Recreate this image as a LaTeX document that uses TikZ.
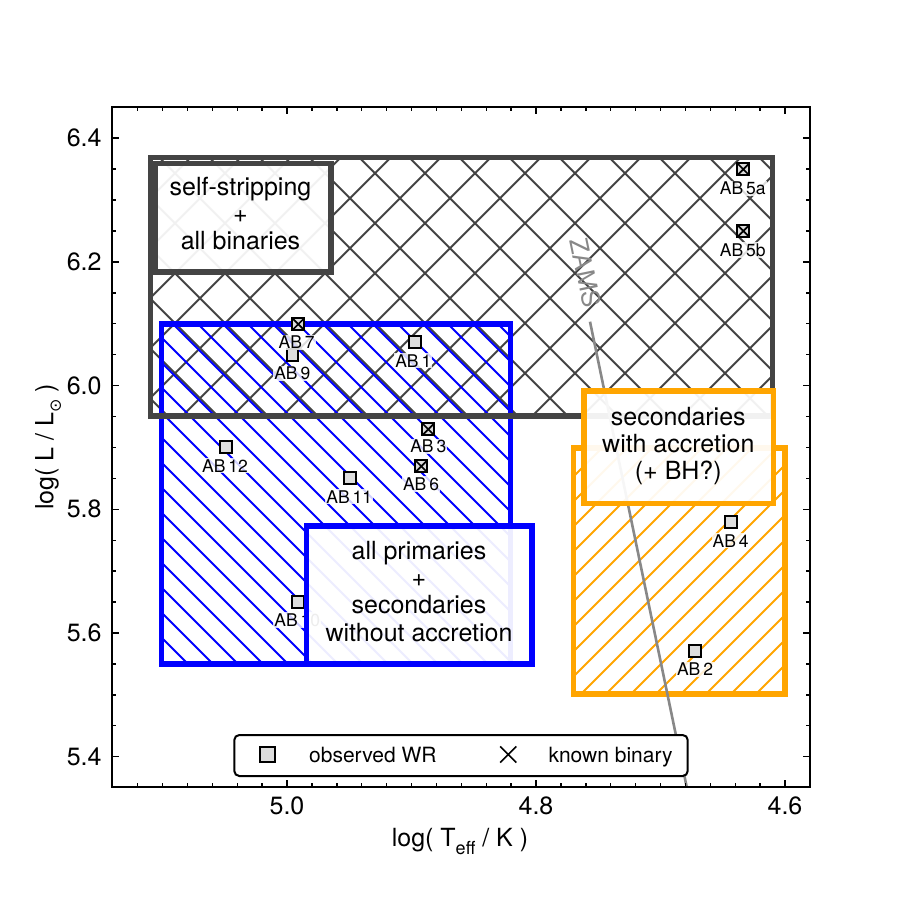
\documentclass[tikz,border=0pt]{standalone}
\usepackage{fontspec}
\setmainfont{TeX Gyre Heros}
\newfontfamily\djv{DejaVu Sans}
\usetikzlibrary{shapes.misc}
\definecolor{dgray}{HTML}{444444}
\definecolor{ablue}{HTML}{0000FF}
\definecolor{aorange}{HTML}{FFA500}
\definecolor{mfill}{HTML}{DDDDDD}
\definecolor{zgray}{HTML}{888888}
\begin{document}
\begin{tikzpicture}[x=1pt,y=-1pt,
  tick/.style={line width=1.4pt, black},
  ticklab/.style={font=\fontsize{25}{30}\selectfont, inner sep=0pt},
  wrpt/.style={rectangle, draw=black, line width=2pt, fill=mfill, minimum size=11.8pt, inner sep=0pt},
  binx/.style={cross out, draw=black, line width=1.7pt, minimum size=9.8pt, inner sep=0pt},
  ablab/.style={font=\fontsize{17.5}{18}\selectfont, fill=white, fill opacity=0.82, text opacity=1, inner sep=1pt},
  regbox/.style={line width=5.5pt},
  lbox/.style={rectangle, line width=5.5pt, fill=white, fill opacity=0.93, inner sep=0pt},
  btext/.style={align=center, font=\fontsize{25}{27.3}\selectfont, inner sep=0pt},
  legtext/.style={anchor=base west, font=\fontsize{21}{24}\selectfont, inner sep=0pt}
]
\useasboundingbox (0,0) rectangle (901,901);
\fill[white] (0,0) rectangle (901,901);

% ---- self-stripping region (cross hatch)
\begin{scope}
  \clip (150.5,157.5) rectangle (772.7,416);
  \foreach \k in {-12,...,7}{
    \pgfmathsetmacro\c{301.7+50*\k}
    \draw[dgray, line width=2pt] (\c+150,150) -- (\c+420,420);
  }
  \foreach \k in {-7,...,11}{
    \pgfmathsetmacro\c{648.3+50*\k}
    \draw[dgray, line width=2pt] (\c-150,150) -- (\c-420,420);
  }
\end{scope}

% ---- primaries region (blue hatch)
\begin{scope}
  \clip (161.7,323.8) rectangle (510.3,664.2);
  \foreach \k in {-20,...,8}{
    \pgfmathsetmacro\c{-1+25*\k}
    \draw[ablue, line width=1.9pt] (\c+320,320) -- (\c+670,670);
  }
\end{scope}
\draw[ablue, regbox] (161.7,323.8) rectangle (510.3,664.2);
\draw[dgray, regbox] (150.5,157.5) rectangle (772.7,416);

% ---- secondaries with accretion (orange hatch)
\begin{scope}
  \clip (573.3,448.2) rectangle (785,694.2);
  \foreach \k in {40,...,60}{
    \pgfmathsetmacro\c{25*\k}
    \draw[aorange, line width=1.9pt] (\c-445,445) -- (\c-700,700);
  }
\end{scope}
\draw[aorange, regbox] (573.3,448.2) rectangle (785,694.2);

% ---- ZAMS
\coordinate (zA) at (590,321.7);
\coordinate (zB) at (686.7,787);
\draw[zgray, line width=2.6pt] (zA) -- (zB);
\node[text=zgray, font=\fontsize{25}{30}\selectfont, rotate=-78.25, inner sep=0pt] (zt) at (585.5,273) {ZAMS};

% ---- data points
\node[wrpt] (p9) at (292.5,355) {};
\node[wrpt] (p7) at (298.3,324.2) {};
\node[binx] (p7x) at (p7.center) {};
\node[wrpt] (p1) at (414.7,342.2) {};
\node[wrpt] (p12) at (225.7,447.3) {};
\node[wrpt] (p3) at (428.3,429.3) {};
\node[binx] (p3x) at (p3.center) {};
\node[wrpt] (p6) at (421.3,466.3) {};
\node[binx] (p6x) at (p6.center) {};
\node[wrpt] (p11) at (350,478.3) {};
\node[wrpt] (p10) at (298.3,602) {};
\node[wrpt] (p5a) at (743.3,169.3) {};
\node[binx] (p5ax) at (p5a.center) {};
\node[wrpt] (p5b) at (743.3,231) {};
\node[binx] (p5bx) at (p5b.center) {};
\node[wrpt] (p4) at (730.8,522) {};
\node[wrpt] (p2) at (695.3,651.3) {};

\node[ablab] (l7) at (296.7,342.3) {AB\,7};
\node[ablab] (l9) at (292.3,373.3) {AB\,9};
\node[ablab] (l1) at (413.3,360.7) {AB\,1};
\node[ablab] (l12) at (225,465.7) {AB\,12};
\node[ablab] (l3) at (428.3,446.7) {AB\,3};
\node[ablab] (l6) at (421,484) {AB\,6};
\node[ablab] (l11) at (349.3,496.7) {AB\,11};
\node[ablab] (l10) at (297.3,620) {AB\,10};
\node[ablab] (l5a) at (742.7,188.3) {AB\,5a};
\node[ablab] (l5b) at (742.7,250) {AB\,5b};
\node[ablab] (l4) at (730.7,540.7) {AB\,4};
\node[ablab] (l2) at (695,669.3) {AB\,2};

% ---- label boxes
\node[lbox, draw=dgray, minimum width=175.8pt, minimum height=108.9pt] (b1) at (243.05,217.75) {};
\node[btext] (t1) at (240.5,213.5) {self-stripping\\+\\all binaries};
\node[lbox, draw=ablue, minimum width=225.1pt, minimum height=138.4pt] (b2) at (419.25,595) {};
\node[btext] (t2) at (419,591.2) {all primaries\\+\\secondaries\\without accretion};
\node[lbox, draw=aorange, minimum width=189.5pt, minimum height=112.1pt] (b3) at (678.55,447.25) {};
\node[btext] (t3) at (678.3,446) {secondaries\\with accretion\\(+ BH?)};

% ---- legend
\node[draw=black, line width=2pt, rounded corners=5pt, fill=white, minimum width=453.4pt, minimum height=41pt, inner sep=0pt] (leg) at (461,755.5) {};
\node[wrpt, minimum size=15.5pt] (legsq) at (267.5,754.7) {};
\node[legtext] (legt1) at (309,762.3) {observed WR};
\node[cross out, draw=black, line width=1.6pt, minimum size=14.5pt, inner sep=0pt] (legx) at (508.3,754.5) {};
\node[legtext] (legt2) at (548.3,762.3) {known binary};

% ---- axes frame and ticks
\draw[line width=2pt] (112.3,107.3) rectangle (810,787);
\foreach \m in {-6,...,20}{
  \pgfmathsetmacro\xx{287+24.9*\m}
  \pgfmathsetmacro\tl{ifthenelse(mod(\m,10)==0,7,4)}
  \draw[tick] (\xx,787) -- ++(0,-\tl);
  \draw[tick] (\xx,107.3) -- ++(0,\tl);
}
\foreach \n in {0,...,20}{
  \pgfmathsetmacro\yy{756.7-30.925*\n}
  \pgfmathsetmacro\tl{ifthenelse(mod(\n,4)==0,7,4)}
  \draw[tick] (112.3,\yy) -- ++(\tl,0);
  \draw[tick] (810,\yy) -- ++(-\tl,0);
}
\node[ticklab] (x50) at (287,805.5) {5.0};
\node[ticklab] (x48) at (536,805.5) {4.8};
\node[ticklab] (x46) at (785,805.5) {4.6};
\foreach \v/\i in {5.4/0,5.6/4,5.8/8,6.0/12,6.2/16,6.4/20}{
  \pgfmathsetmacro\yy{756.7-30.925*\i}
  \node[ticklab, anchor=east] (y\i) at (101.7,\yy) {\v};
}
\node[font=\fontsize{25}{30}\selectfont, anchor=base, inner sep=0pt] (xtitle) at (460,846)
  {log( T\raisebox{-0.32em}{\fontsize{18}{18}\selectfont eff} / K )};
\node[font=\fontsize{25}{30}\selectfont, anchor=base, rotate=90, inner sep=0pt] (ytitle) at (53.3,447)
  {log( L / L\raisebox{-0.3em}{\fontsize{16}{16}\djv ⊙} )};
\end{tikzpicture}
\end{document}
